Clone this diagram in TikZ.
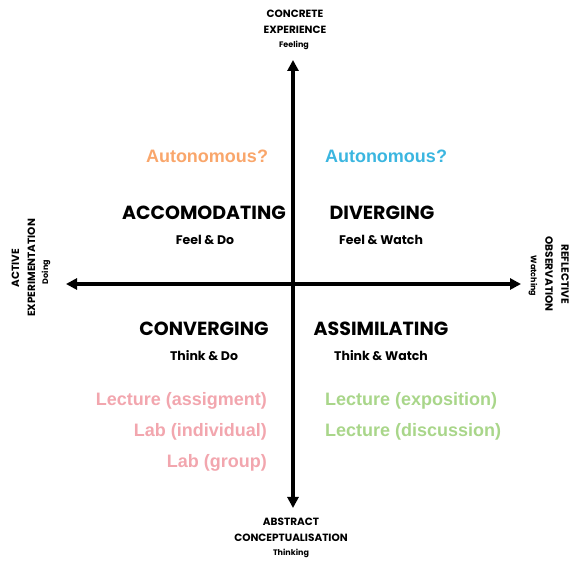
\documentclass[tikz,border=0pt]{standalone}
\usepackage{fontspec}
\setmainfont{Poppins}
\newfontfamily\labelfont{Liberation Sans}
\usetikzlibrary{arrows.meta, positioning, calc}

\definecolor{autoorange}{HTML}{F9A66B}
\definecolor{autoblue}{HTML}{3BB6E0}
\definecolor{convpink}{HTML}{F2A6AE}
\definecolor{assimgreen}{HTML}{A9D68A}

\begin{document}
\begin{tikzpicture}[
  x=1pt, y=-1pt,
  % --- styles ------------------------------------------------------------
  axis/.style={{Triangle[length=11pt,width=11pt]}-{Triangle[length=11pt,width=11pt]}, line width=3.2pt},
  pole/.style={font=\fontsize{10.5}{16}\selectfont\bfseries, align=center, inner sep=0pt},
  polesub/.style={font=\fontsize{8}{10}\selectfont\bfseries},
  style/.style={font=\fontsize{19}{22}\selectfont\bfseries, inner sep=0pt},
  pair/.style={font=\fontsize{12.5}{15}\selectfont\bfseries, inner sep=0pt},
  method/.style={font=\labelfont\fontsize{18}{21}\selectfont\bfseries, inner sep=0pt}
]
\useasboundingbox (0,0) rectangle (571,561);

% --------------------- axes ---------------------------------------------
\coordinate (top) at (293,60);
\coordinate (bottom) at (293,508);
\coordinate (left) at (66,284);
\coordinate (right) at (521,284);
\draw[axis] (bottom) -- (top);
\draw[axis] (left) -- (right);

% --------------------- poles --------------------------------------------
\node[pole] (ce) at (295,22) {CONCRETE\\EXPERIENCE};
\node[polesub] (ceSub) at (294,45) {Feeling};
\node[pole] (ac) at (291,530) {ABSTRACT\\CONCEPTUALISATION};
\node[polesub] (acSub) at (291,553) {Thinking};
\node[pole, rotate=90] (ae) at (23.5,268) {ACTIVE\\EXPERIMENTATION};
\node[polesub, rotate=90] (aeSub) at (46,272) {Doing};
\node[pole, rotate=-90] (ro) at (557,274) {REFLECTIVE\\OBSERVATION};
\node[polesub, rotate=-90] (roSub) at (533,276) {Watching};

% --------------------- quadrants ----------------------------------------
\node[method, autoorange] (autoL) at (207,156) {Autonomous?};
\node[method, autoblue] (autoR) at (386,156) {Autonomous?};

\node[style] (acc) at (204,213) {ACCOMODATING};
\node[pair] (accSub) at (205,240) {Feel \& Do};
\node[style] (div) at (382,213) {DIVERGING};
\node[pair] (divSub) at (381,240) {Feel \& Watch};
\node[style] (conv) at (204,329) {CONVERGING};
\node[pair] (convSub) at (204,356) {Think \& Do};
\node[style] (assim) at (381,329) {ASSIMILATING};
\node[pair] (assimSub) at (381,356) {Think \& Watch};

% --------------------- teaching methods ---------------------------------
\node[method, convpink, anchor=east] (lecA) at (267,401) {Lecture (assigment)};
\node[method, convpink, anchor=east] (labI) at (267,432) {Lab (individual)};
\node[method, convpink, anchor=east] (labG) at (267,463) {Lab (group)};
\node[method, assimgreen, anchor=west] (lecE) at (325,401) {Lecture (exposition)};
\node[method, assimgreen, anchor=west] (lecD) at (325,432) {Lecture (discussion)};

\end{tikzpicture}
\end{document}
